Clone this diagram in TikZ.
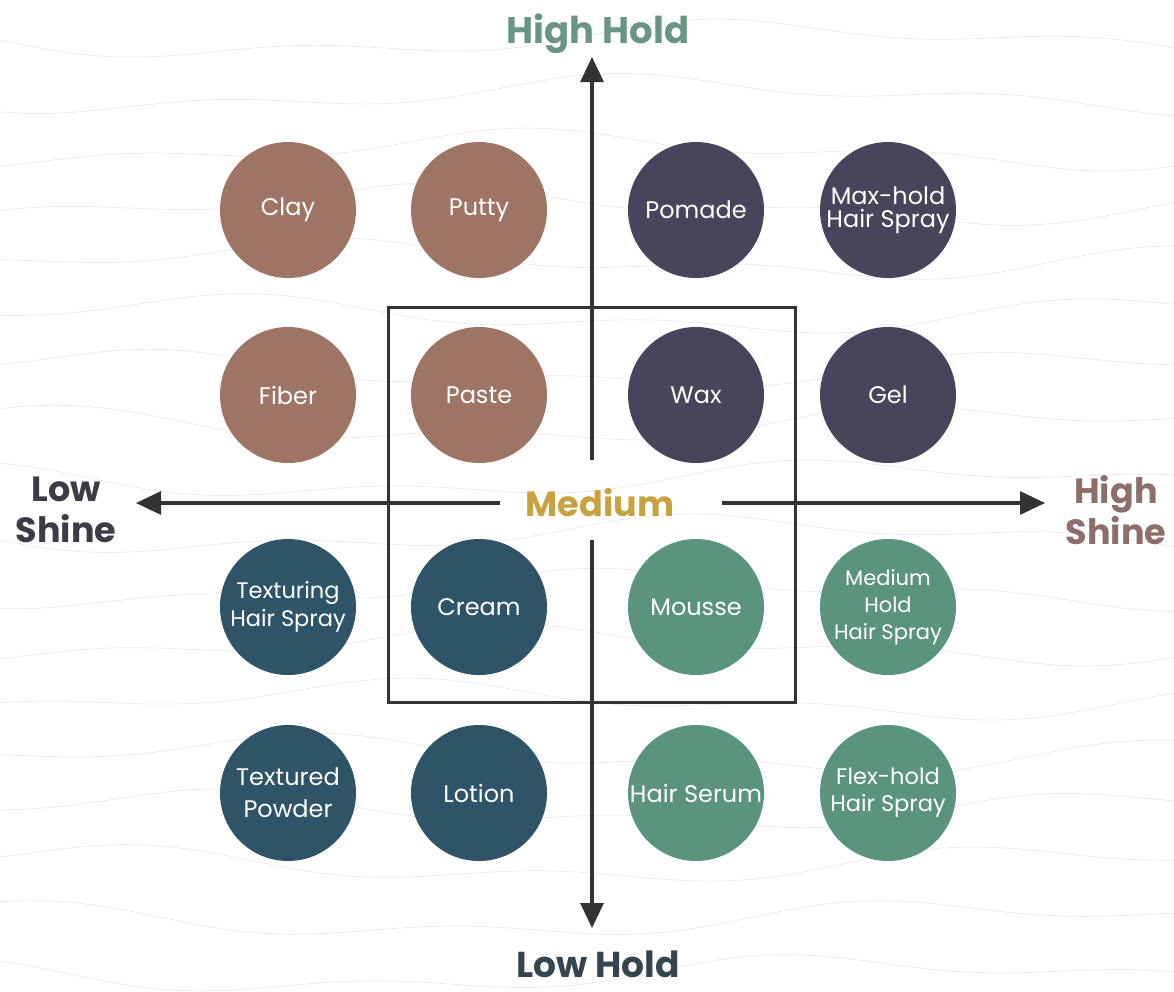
\documentclass[tikz,border=0pt]{standalone}
\usepackage{fontspec}
\setmainfont{Poppins}
\usetikzlibrary{arrows.meta}
\definecolor{cbrown}{HTML}{9E7565}
\definecolor{cplum}{HTML}{46455B}
\definecolor{cteal}{HTML}{2F5468}
\definecolor{cgreen}{HTML}{5B947C}
\definecolor{tgreen}{HTML}{6A9582}
\definecolor{tbrown}{HTML}{8E6E6A}
\definecolor{tdark}{HTML}{3C3C46}
\definecolor{tlow}{HTML}{34454F}
\definecolor{tgold}{HTML}{C9A240}
\definecolor{axis}{HTML}{333333}
\definecolor{bgline}{HTML}{EAEAEA}
\begin{document}
\begin{tikzpicture}[x=1pt,y=-1pt,
  blob/.style={circle, minimum size=136pt, inner sep=0pt, text=white, align=center,
    font=\fontsize{24}{24}\selectfont},
  title/.style={font=\fontsize{37}{40}\selectfont\bfseries, align=center},
  axisline/.style={draw=axis, line width=3.2pt, -{Triangle[length=25pt,width=23pt]}},
  bg/.style={draw=bgline, line width=0.7pt}]
\useasboundingbox (0,0) rectangle (1174,991);
\fill[white] (0,0) rectangle (1174,991);
% faint wavy background
\foreach \y/\p in {40/0,95/40,150/80,205/120,260/160,315/200,370/240,425/280,480/320,535/10,590/50,645/90,700/130,755/170,810/210,865/250,920/290,975/330}{
  \draw[bg] plot[domain=0:1174, samples=50, smooth] (\x, {\y + 14*sin(0.35*\x + \p) + 8*sin(0.9*\x + 2*\p)});
}
% square
\draw[draw=axis, line width=3pt] (388,307) rectangle (795,702);
% circles
\node[blob, fill=cbrown] (clay) at (288,210) {Clay};
\node[blob, fill=cbrown] (putty) at (479,210) {Putty};
\node[blob, fill=cplum] (pomade) at (696,210) {Pomade};
\node[blob, fill=cplum, font=\fontsize{24}{23}\selectfont] (maxhold) at (888,210) {Max-hold\\Hair Spray};
\node[blob, fill=cbrown] (fiber) at (288,395) {Fiber};
\node[blob, fill=cbrown] (paste) at (479,395) {Paste};
\node[blob, fill=cplum] (wax) at (696,395) {Wax};
\node[blob, fill=cplum] (gel) at (888,395) {Gel};
\node[blob, fill=cteal, font=\fontsize{22.5}{28}\selectfont] (texturing) at (288,607) {Texturing\\Hair Spray};
\node[blob, fill=cteal] (cream) at (479,607) {Cream};
\node[blob, fill=cgreen] (mousse) at (696,607) {Mousse};
\node[blob, fill=cgreen, font=\fontsize{21}{27}\selectfont] (medhold) at (888,607) {Medium\\Hold\\Hair Spray};
\node[blob, fill=cteal, font=\fontsize{24}{32}\selectfont] (powder) at (288,793) {Textured\\Powder};
\node[blob, fill=cteal] (lotion) at (479,793) {Lotion};
\node[blob, fill=cgreen] (serum) at (696,793) {Hair Serum};
\node[blob, fill=cgreen, font=\fontsize{22.5}{27}\selectfont] (flex) at (888,793) {Flex-hold\\Hair Spray};
% labels
\node[title, text=tgreen, anchor=base] (hh) at (598,43) {High Hold};
\node[title, text=tlow, anchor=base, inner sep=0pt, text depth=0pt, font=\fontsize{36}{40}\selectfont\bfseries] (lh) at (598,977) {Low Hold};
\node[title, text=tdark, font=\fontsize{35}{41}\selectfont\bfseries] (ls) at (66,510) {Low\\Shine};
\node[title, text=tbrown, font=\fontsize{35}{41}\selectfont\bfseries] (hs) at (1116,510) {High\\Shine};
\node[title, text=tgold, font=\fontsize{35}{38}\selectfont\bfseries] (med) at (600,503) {Medium};
% axes
\coordinate (vtop) at (592,460);
\coordinate (vtopend) at (592,57);
\coordinate (vbot) at (592,540);
\coordinate (vbotend) at (592,928);
\coordinate (hleft) at (500,503);
\coordinate (hleftend) at (136,503);
\coordinate (hright) at (722,503);
\coordinate (hrightend) at (1045,503);
\draw[axisline] (vtop) -- (vtopend);
\draw[axisline] (vbot) -- (vbotend);
\draw[axisline] (hleft) -- (hleftend);
\draw[axisline] (hright) -- (hrightend);
\end{tikzpicture}
\end{document}
